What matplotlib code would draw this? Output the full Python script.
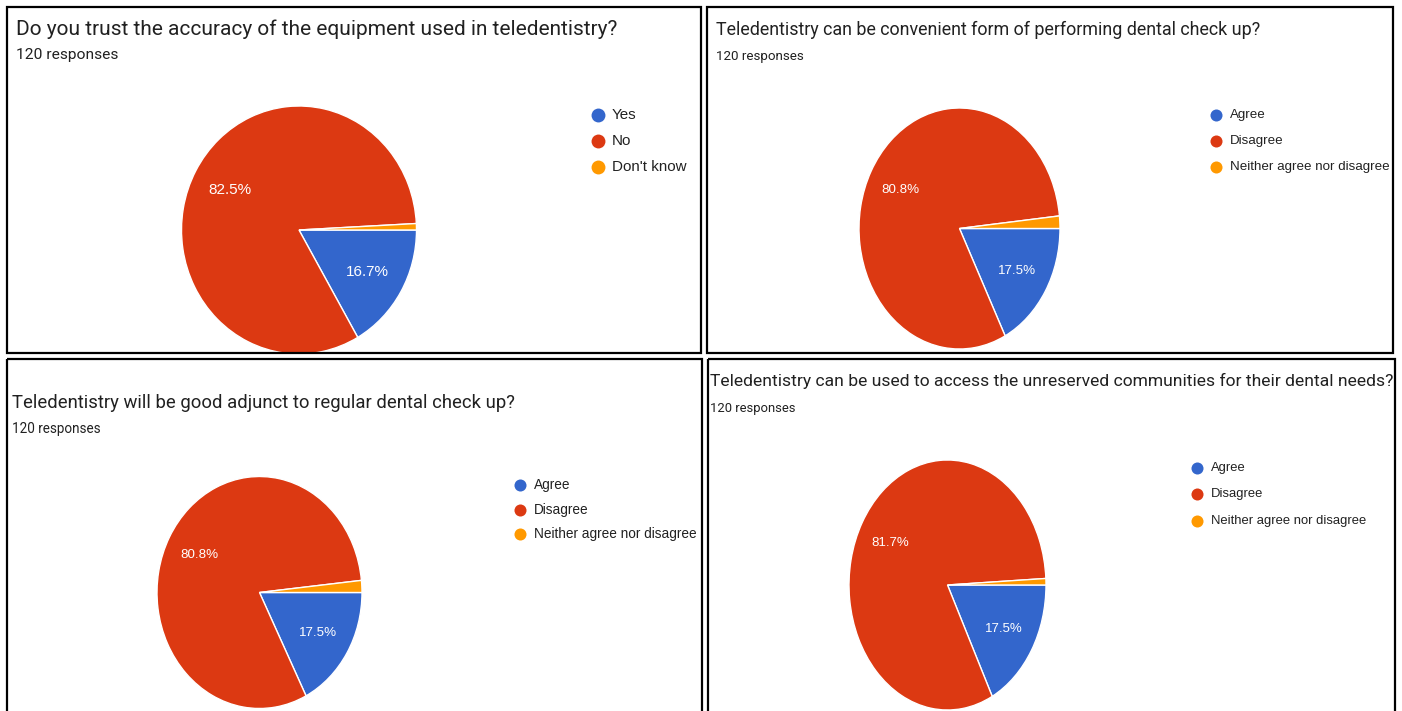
import matplotlib

matplotlib.use("Agg")

import matplotlib.pyplot as plt
from matplotlib.patches import Rectangle

# Canvas in pixels; everything below is laid out in pixel units.
W, H = 1402, 711
DPI = 100

BLUE = "#3366cc"
RED = "#dc3912"
ORANGE = "#ff9900"
INK = "#212121"
COLORS = [BLUE, RED, ORANGE]

N_RESPONSES = 120

titles = [
    "Do you trust the accuracy of the equipment used in teledentistry?",
    "Teledentistry can be convenient form of performing dental check up?",
    "Teledentistry will be good adjunct to regular dental check up?",
    "Teledentistry can be used to access the unreserved communities for their dental needs?",
]
labels_q1 = ["Yes", "No", "Don't know"]
labels_agree = ["Agree", "Disagree", "Neither agree nor disagree"]
counts_q1 = [20, 99, 1]
counts_q2 = [21, 97, 2]
counts_q3 = [21, 97, 2]
counts_q4 = [21, 98, 1]

# Per-panel layout: frame box, title/subtitle placement, pie ellipse, legend.
panels = [
    dict(box=(7, 7, 701, 353), tx=16, ty=35, tw=600, sy=59, sw=102,
         pie=(299, 230, 117.5, 124), lx=598, ly=(115, 141, 167),
         lfs=10.9, dot=100, pfs=11),
    dict(box=(707, 7, 1393, 353), tx=716, ty=35, tw=546, sy=60, sw=88,
         pie=(959.5, 228.5, 100.5, 120.5), lx=1216, ly=(115, 141, 167),
         lfs=9.6, dot=75, pfs=9.6),
    dict(box=(7, 359, 702, 730), tx=12, ty=408, tw=502, sy=433, sw=89,
         pie=(259.5, 592.5, 102.5, 116), lx=520, ly=(485, 510, 534),
         lfs=9.8, dot=75, pfs=9.6),
    dict(box=(708, 359, 1395, 730), tx=710, ty=386, tw=682, sy=412, sw=86,
         pie=(947.5, 585, 98.5, 125), lx=1197, ly=(468, 494, 521),
         lfs=9.4, dot=75, pfs=9.5),
]
data = [
    (labels_q1, counts_q1),
    (labels_agree, counts_q2),
    (labels_agree, counts_q3),
    (labels_agree, counts_q4),
]


def _pct(p):
    # Tiny slices get no label, like the survey export.
    return f"{p:.1f}%" if p > 5 else ""


def _fit_width(txt, width_px, renderer):
    bb = txt.get_window_extent(renderer)
    txt.set_fontsize(txt.get_fontsize() * width_px / bb.width)


fig = plt.figure(figsize=(W / DPI, H / DPI), dpi=DPI, facecolor="white")

for p, (labels, counts) in zip(panels, data):
    cx, cy, rx, ry = p["pie"]
    ax = fig.add_axes([(cx - rx) / W, 1 - (cy + ry) / H, 2 * rx / W, 2 * ry / H])
    ax.pie(
        counts,
        colors=COLORS,
        startangle=0,
        counterclock=False,
        radius=1,
        autopct=_pct,
        pctdistance=0.67,
        wedgeprops=dict(edgecolor="white", linewidth=1),
        textprops=dict(color="white", fontsize=p["pfs"], family="Liberation Sans"),
    )
    ax.set_xlim(-1.0, 1.0)
    ax.set_ylim(-1.0, 1.0)
    ax.set_aspect("auto")
    ax.axis("off")

# Overlay in pixel coordinates for frames, headings and legends.
ov = fig.add_axes([0, 0, 1, 1])
ov.set_xlim(0, W)
ov.set_ylim(H, 0)
ov.axis("off")
ov.patch.set_visible(False)

renderer = fig.canvas.get_renderer()
for i, (p, (labels, counts)) in enumerate(zip(panels, data)):
    x0, y0, x1, y1 = p["box"]
    ov.add_patch(Rectangle((x0, y0), x1 - x0, y1 - y0, fill=False,
                           edgecolor="black", linewidth=1.6))

    t = ov.text(p["tx"], p["ty"], titles[i], family="Roboto", fontsize=13,
                color=INK, va="baseline", ha="left")
    _fit_width(t, p["tw"], renderer)
    s = ov.text(p["tx"], p["sy"], f"{N_RESPONSES} responses", family="Roboto",
                fontsize=10, color=INK, va="baseline", ha="left")
    _fit_width(s, p["sw"], renderer)

    for lab, col, y in zip(labels, COLORS, p["ly"]):
        ov.scatter([p["lx"]], [y], s=p["dot"], color=col, linewidths=0)
        ov.text(p["lx"] + 14, y, lab, family="Liberation Sans",
                fontsize=p["lfs"], color=INK, va="center", ha="left")

fig.savefig("out.png", dpi=DPI, facecolor="white")
